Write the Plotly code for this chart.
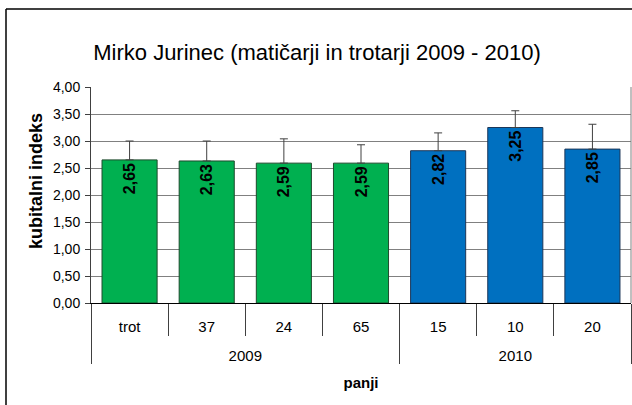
import plotly.graph_objects as go

years = ["2009", "2009", "2009", "2009", "2010", "2010", "2010"]
hives = ["trot", "37", "24", "65", "15", "10", "20"]
values = [2.65, 2.63, 2.59, 2.59, 2.82, 3.25, 2.85]
errors = [0.35, 0.37, 0.45, 0.34, 0.33, 0.31, 0.46]
year_colors = {"2009": "#00B050", "2010": "#0070C0"}
year_lines = {"2009": "#1d4a2c", "2010": "#1c3658"}

FONT = "Arial, Liberation Sans, sans-serif"

L, R, T, B = 91, 1, 87, 102
W, H = 632, 405
PW, PH = W - L - R, H - T - B

# second-level (year) labels are pushed one line lower, as in the reference
year_labels = ["<br>" + y for y in years]

fig = go.Figure()
fig.add_trace(go.Bar(
    x=[year_labels, hives],
    y=values,
    marker=dict(color=[year_colors[y] for y in years],
                line=dict(color=[year_lines[y] for y in years], width=1)),
    error_y=dict(type="data", array=errors, arrayminus=[0] * len(errors),
                 symmetric=False, color="#404040", thickness=1, width=4),
    texttemplate="%{y:.2f}",
    textposition="inside",
    insidetextanchor="end",
    textangle=-90,
    textfont=dict(family=FONT, size=16, color="black", weight="bold"),
    hoverinfo="skip",
))

fig.update_layout(
    width=W, height=H,
    margin=dict(l=L, r=R, t=T, b=B),
    paper_bgcolor="white", plot_bgcolor="white",
    separators=",.",
    bargap=0.286,
    showlegend=False,
    font=dict(family=FONT, size=14, color="black"),
    title=dict(text="Mirko Jurinec (matičarji in trotarji 2009 - 2010)",
               x=317 / W, xanchor="center", y=1 - 52 / H, yanchor="middle",
               font=dict(family=FONT, size=22, color="black")),
    yaxis=dict(range=[0, 4], dtick=0.5, tickformat=".2f", automargin=False,
               showgrid=True, gridcolor="#808080", gridwidth=1,
               showline=True, linecolor="#404040", linewidth=1,
               ticks="outside", ticklen=5, tickcolor="#404040",
               ticklabelstandoff=2, zeroline=False,
               tickfont=dict(family=FONT, size=14)),
    xaxis=dict(type="multicategory", automargin=False,
               showline=True, linecolor="black", linewidth=1,
               ticks="outside", tickson="boundaries", ticklen=32, tickcolor="#404040",
               ticklabelstandoff=10,
               showdividers=True, dividercolor="#404040", dividerwidth=1,
               tickfont=dict(family=FONT, size=15),
               title=dict(text="<b>panji</b>", standoff=14,
                          font=dict(family=FONT, size=15))),
    annotations=[
        dict(text="<b>kubitalni indeks</b>", xref="paper", yref="paper",
             x=(36 - L) / PW, y=(H - B - 181) / PH, xanchor="center", yanchor="middle",
             textangle=-90, showarrow=False,
             font=dict(family=FONT, size=18, color="black")),
    ],
    shapes=[
        dict(type="line", xref="paper", yref="paper", x0=1, x1=1, y0=0, y1=1,
             line=dict(color="#808080", width=1)),
        dict(type="line", xref="paper", yref="paper",
             x0=(6 - L) / PW, x1=(6 - L) / PW, y0=(H - B - 9) / PH, y1=(H - B - 410) / PH,
             line=dict(color="black", width=1.5)),
        dict(type="line", xref="paper", yref="paper",
             x0=(6 - L) / PW, x1=(640 - L) / PW, y0=(H - B - 9) / PH, y1=(H - B - 9) / PH,
             line=dict(color="black", width=1.5)),
    ],
)

fig.write_html("out.html",
               config={"displayModeBar": False, "staticPlot": True},
               post_script="document.body.style.margin='0';document.body.style.overflow='hidden';")
